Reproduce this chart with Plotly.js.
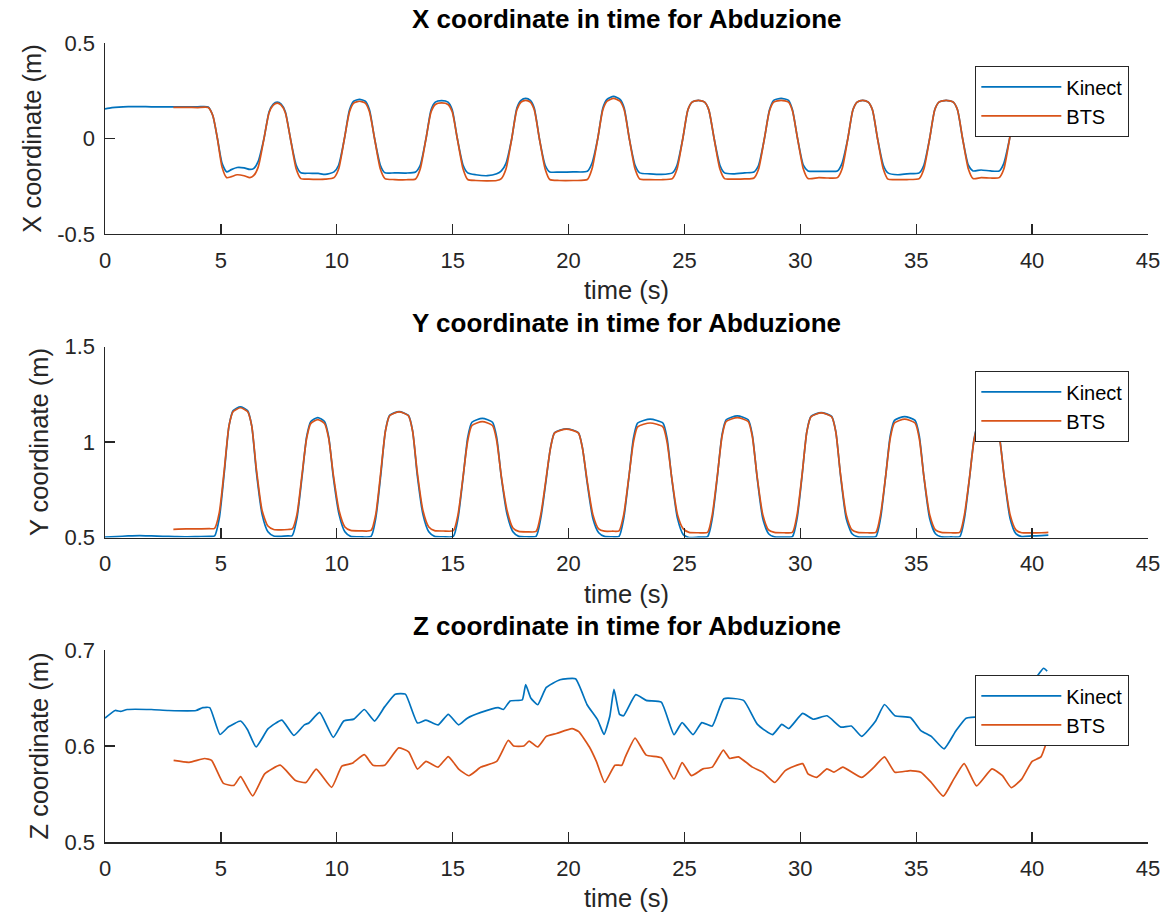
<!DOCTYPE html>
<html>
<head>
<meta charset="utf-8">
<script src="https://cdn.plot.ly/plotly-3.0.1.min.js"></script>
<style>
  html, body { margin: 0; padding: 0; background: #ffffff; }
  #chart { width: 1168px; height: 912px; }
</style>
</head>
<body>
<div id="chart"></div>
<script>
// ---------------- data ----------------
const seriesNames = ["Kinect", "BTS"];
const xTickVals = [0, 5, 10, 15, 20, 25, 30, 35, 40, 45];
const xTickText = ["0", "5", "10", "15", "20", "25", "30", "35", "40", "45"];
const y1TickVals = [-0.5, 0, 0.5];
const y1TickText = ["-0.5", "0", "0.5"];
const y2TickVals = [0.5, 1, 1.5];
const y2TickText = ["0.5", "1", "1.5"];
const y3TickVals = [0.5, 0.6, 0.7];
const y3TickText = ["0.5", "0.6", "0.7"];

// X coordinate, Kinect
const kinectXt = [0, 0.3, 1, 2, 3, 4, 4.45, 4.65, 4.85, 5.05, 5.25, 5.45, 5.7, 6.0, 6.25, 6.41,
  6.61, 6.86, 7.08, 7.26, 7.43, 7.6, 7.78, 8.0, 8.25, 8.45,
  8.8, 9.2, 9.5, 9.88,
  10.08, 10.33, 10.55, 10.73, 10.98, 11.23, 11.41, 11.63, 11.88, 12.08,
  12.5, 13.0, 13.4,
  13.6, 13.85, 14.07, 14.25, 14.52, 14.8, 14.98, 15.2, 15.45, 15.65,
  16.0, 16.5, 16.9, 17.1,
  17.3, 17.55, 17.77, 17.95, 18.15, 18.35, 18.52, 18.74, 18.99, 19.19,
  19.6, 20.2, 20.81,
  21.01, 21.26, 21.48, 21.66, 21.94, 22.22, 22.4, 22.62, 22.87, 23.07,
  23.5, 24.0, 24.48,
  24.68, 24.93, 25.15, 25.33, 25.6, 25.87, 26.05, 26.28, 26.53, 26.73,
  27.1, 27.6, 28.0,
  28.2, 28.45, 28.67, 28.85, 29.17, 29.49, 29.66, 29.88, 30.13, 30.33,
  30.8, 31.2, 31.6,
  31.8, 32.05, 32.27, 32.45, 32.69, 32.93, 33.11, 33.33, 33.58, 33.78,
  34.2, 34.6, 35.13,
  35.33, 35.58, 35.8, 35.98, 36.29, 36.6, 36.78, 37.0, 37.25, 37.45,
  37.8, 38.2, 38.58,
  38.78, 39.03, 39.25, 39.45, 39.8, 40.3, 40.7];
const kinectXv = [0.155, 0.162, 0.167, 0.166, 0.165, 0.166, 0.165, 0.12, 0.0, -0.13, -0.175, -0.163, -0.152, -0.154, -0.162, -0.158,
  -0.12, 0.0, 0.14, 0.18, 0.19, 0.18, 0.14, 0.0, -0.14, -0.18,
  -0.182, -0.183, -0.188, -0.175,
  -0.14, 0.0, 0.15, 0.195, 0.205, 0.195, 0.15, 0.0, -0.14, -0.18,
  -0.18, -0.181, -0.175,
  -0.14, 0.0, 0.15, 0.19, 0.198, 0.19, 0.15, 0.0, -0.14, -0.18,
  -0.19, -0.195, -0.185, -0.17,
  -0.13, 0.0, 0.16, 0.2, 0.21, 0.2, 0.16, 0.0, -0.14, -0.175,
  -0.176, -0.175, -0.172,
  -0.13, 0.0, 0.16, 0.205, 0.22, 0.205, 0.16, 0.0, -0.14, -0.18,
  -0.185, -0.188, -0.18,
  -0.14, 0.0, 0.15, 0.19, 0.2, 0.19, 0.15, 0.0, -0.14, -0.18,
  -0.185, -0.18, -0.175,
  -0.14, 0.0, 0.15, 0.2, 0.21, 0.2, 0.15, 0.0, -0.14, -0.17,
  -0.172, -0.172, -0.17,
  -0.13, 0.0, 0.15, 0.19, 0.2, 0.19, 0.15, 0.0, -0.14, -0.18,
  -0.19, -0.185, -0.18,
  -0.14, 0.0, 0.15, 0.19, 0.2, 0.19, 0.15, 0.0, -0.14, -0.17,
  -0.165, -0.17, -0.17,
  -0.13, 0.0, 0.15, 0.19, 0.2, 0.2, 0.2];

// X coordinate, BTS
const btsXt = [2.95, 3.5, 4.0, 4.45, 4.65, 4.85, 5.05, 5.25, 5.45, 5.7, 6.0, 6.25, 6.41,
  6.61, 6.86, 7.08, 7.26, 7.43, 7.6, 7.78, 8.0, 8.25, 8.45,
  8.8, 9.2, 9.5, 9.88,
  10.08, 10.33, 10.55, 10.73, 10.98, 11.23, 11.41, 11.63, 11.88, 12.08,
  12.5, 13.0, 13.4,
  13.6, 13.85, 14.07, 14.25, 14.52, 14.8, 14.98, 15.2, 15.45, 15.65,
  16.0, 16.5, 16.9, 17.1,
  17.3, 17.55, 17.77, 17.95, 18.15, 18.35, 18.52, 18.74, 18.99, 19.19,
  19.6, 20.2, 20.81,
  21.01, 21.26, 21.48, 21.66, 21.94, 22.22, 22.4, 22.62, 22.87, 23.07,
  23.5, 24.0, 24.48,
  24.68, 24.93, 25.15, 25.33, 25.6, 25.87, 26.05, 26.28, 26.53, 26.73,
  27.1, 27.6, 28.0,
  28.2, 28.45, 28.67, 28.85, 29.17, 29.49, 29.66, 29.88, 30.13, 30.33,
  30.8, 31.2, 31.6,
  31.8, 32.05, 32.27, 32.45, 32.69, 32.93, 33.11, 33.33, 33.58, 33.78,
  34.2, 34.6, 35.13,
  35.33, 35.58, 35.8, 35.98, 36.29, 36.6, 36.78, 37.0, 37.25, 37.45,
  37.8, 38.2, 38.58,
  38.78, 39.03, 39.25, 39.45, 39.8, 40.3, 40.7];
const btsXv = [0.163, 0.163, 0.162, 0.162, 0.12, 0.0, -0.15, -0.205, -0.2, -0.19, -0.195, -0.205, -0.195,
  -0.15, 0.0, 0.135, 0.175, 0.185, 0.175, 0.135, 0.0, -0.16, -0.21,
  -0.213, -0.214, -0.213, -0.205,
  -0.16, 0.0, 0.14, 0.185, 0.195, 0.185, 0.14, 0.0, -0.16, -0.21,
  -0.215, -0.216, -0.212,
  -0.16, 0.0, 0.14, 0.178, 0.186, 0.178, 0.14, 0.0, -0.16, -0.215,
  -0.22, -0.222, -0.22, -0.21,
  -0.16, 0.0, 0.15, 0.19, 0.2, 0.19, 0.15, 0.0, -0.16, -0.215,
  -0.22, -0.22, -0.215,
  -0.16, 0.0, 0.15, 0.195, 0.21, 0.195, 0.15, 0.0, -0.16, -0.212,
  -0.215, -0.216, -0.21,
  -0.16, 0.0, 0.15, 0.19, 0.2, 0.19, 0.15, 0.0, -0.16, -0.21,
  -0.213, -0.212, -0.207,
  -0.16, 0.0, 0.145, 0.19, 0.2, 0.19, 0.145, 0.0, -0.16, -0.21,
  -0.205, -0.207, -0.205,
  -0.16, 0.0, 0.15, 0.19, 0.2, 0.19, 0.15, 0.0, -0.16, -0.213,
  -0.215, -0.215, -0.21,
  -0.16, 0.0, 0.15, 0.19, 0.2, 0.19, 0.15, 0.0, -0.16, -0.21,
  -0.205, -0.207, -0.205,
  -0.16, 0.0, 0.145, 0.185, 0.2, 0.2, 0.2];

// Y coordinate, Kinect
const kinectYt = [0, 0.5, 1.0, 1.5, 2.0, 2.5, 3.0, 3.5, 4.0, 4.5, 4.73,
  4.93, 5.15, 5.35, 5.53, 5.84, 6.15, 6.33, 6.53, 6.78, 7.03, 7.28,
  7.6, 7.9,
  8.08, 8.28, 8.5, 8.7, 8.88, 9.18, 9.47, 9.65, 9.85, 10.1, 10.35, 10.6,
  11.0, 11.48,
  11.68, 11.9, 12.1, 12.28, 12.69, 13.09, 13.27, 13.47, 13.72, 13.97, 14.22,
  14.6, 15.03,
  15.23, 15.45, 15.65, 15.83, 16.28, 16.72, 16.9, 17.1, 17.35, 17.6, 17.85,
  18.2, 18.6,
  18.8, 19.02, 19.22, 19.4, 19.91, 20.42, 20.6, 20.8, 21.05, 21.3, 21.55,
  21.9, 22.18,
  22.38, 22.6, 22.8, 22.98, 23.52, 24.07, 24.25, 24.45, 24.7, 24.95, 25.2,
  25.6, 26.0,
  26.2, 26.42, 26.62, 26.8, 27.28, 27.75, 27.93, 28.13, 28.38, 28.63, 28.88,
  29.3, 29.66,
  29.86, 30.08, 30.28, 30.46, 30.9, 31.35, 31.53, 31.73, 31.98, 32.23, 32.48,
  32.9, 33.26,
  33.46, 33.68, 33.88, 34.06, 34.5, 34.95, 35.13, 35.33, 35.58, 35.83, 36.08,
  36.5, 36.88,
  37.08, 37.3, 37.5, 37.68, 38.05, 38.42, 38.6, 38.8, 39.05, 39.3, 39.55,
  40.0, 40.4, 40.7];
const kinectYv = [0.502, 0.505, 0.508, 0.51, 0.508, 0.506, 0.505, 0.504, 0.505, 0.506, 0.508,
  0.6, 0.845, 1.085, 1.165, 1.185, 1.165, 1.085, 0.845, 0.62, 0.53, 0.508,
  0.506, 0.508,
  0.51, 0.6, 0.817, 1.028, 1.108, 1.128, 1.108, 1.028, 0.817, 0.62, 0.53, 0.506,
  0.504, 0.506,
  0.6, 0.83, 1.06, 1.14, 1.16, 1.14, 1.06, 0.83, 0.62, 0.53, 0.506,
  0.504, 0.506,
  0.6, 0.815, 1.024, 1.104, 1.124, 1.104, 1.024, 0.815, 0.62, 0.53, 0.506,
  0.504, 0.506,
  0.6, 0.79, 0.97, 1.05, 1.07, 1.05, 0.97, 0.79, 0.6, 0.525, 0.506,
  0.504, 0.506,
  0.6, 0.812, 1.02, 1.1, 1.12, 1.1, 1.02, 0.812, 0.6, 0.515, 0.5,
  0.502, 0.505,
  0.6, 0.82, 1.037, 1.117, 1.137, 1.117, 1.037, 0.82, 0.6, 0.52, 0.503,
  0.502, 0.505,
  0.6, 0.83, 1.055, 1.135, 1.155, 1.135, 1.055, 0.83, 0.6, 0.52, 0.503,
  0.502, 0.505,
  0.6, 0.82, 1.034, 1.114, 1.134, 1.114, 1.034, 0.82, 0.6, 0.52, 0.503,
  0.503, 0.505,
  0.6, 0.812, 1.02, 1.1, 1.12, 1.1, 1.02, 0.812, 0.6, 0.52, 0.505,
  0.508, 0.51, 0.512];

// Y coordinate, BTS
const btsYt = [2.95, 3.5, 4.0, 4.5, 4.73,
  4.93, 5.15, 5.35, 5.53, 5.84, 6.15, 6.33, 6.53, 6.78, 7.03, 7.28,
  7.6, 7.9,
  8.08, 8.28, 8.5, 8.7, 8.88, 9.18, 9.47, 9.65, 9.85, 10.1, 10.35, 10.6,
  11.0, 11.48,
  11.68, 11.9, 12.1, 12.28, 12.69, 13.09, 13.27, 13.47, 13.72, 13.97, 14.22,
  14.6, 15.03,
  15.23, 15.45, 15.65, 15.83, 16.28, 16.72, 16.9, 17.1, 17.35, 17.6, 17.85,
  18.2, 18.6,
  18.8, 19.02, 19.22, 19.4, 19.91, 20.42, 20.6, 20.8, 21.05, 21.3, 21.55,
  21.9, 22.18,
  22.38, 22.6, 22.8, 22.98, 23.52, 24.07, 24.25, 24.45, 24.7, 24.95, 25.2,
  25.6, 26.0,
  26.2, 26.42, 26.62, 26.8, 27.28, 27.75, 27.93, 28.13, 28.38, 28.63, 28.88,
  29.3, 29.66,
  29.86, 30.08, 30.28, 30.46, 30.9, 31.35, 31.53, 31.73, 31.98, 32.23, 32.48,
  32.9, 33.26,
  33.46, 33.68, 33.88, 34.06, 34.5, 34.95, 35.13, 35.33, 35.58, 35.83, 36.08,
  36.5, 36.88,
  37.08, 37.3, 37.5, 37.68, 38.05, 38.42, 38.6, 38.8, 39.05, 39.3, 39.55,
  40.0, 40.4, 40.7];
const btsYv = [0.543, 0.545, 0.545, 0.546, 0.548,
  0.63, 0.86, 1.085, 1.16, 1.18, 1.16, 1.085, 0.86, 0.64, 0.56, 0.542,
  0.54, 0.542,
  0.545, 0.62, 0.83, 1.02, 1.098, 1.118, 1.098, 1.02, 0.83, 0.64, 0.555, 0.537,
  0.535, 0.537,
  0.62, 0.845, 1.058, 1.138, 1.158, 1.138, 1.058, 0.845, 0.64, 0.555, 0.536,
  0.534, 0.536,
  0.62, 0.82, 1.007, 1.087, 1.107, 1.087, 1.007, 0.82, 0.64, 0.55, 0.532,
  0.53, 0.532,
  0.62, 0.8, 0.968, 1.048, 1.068, 1.048, 0.968, 0.8, 0.62, 0.545, 0.533,
  0.533, 0.535,
  0.62, 0.815, 1.0, 1.08, 1.1, 1.08, 1.0, 0.815, 0.62, 0.545, 0.527,
  0.525, 0.527,
  0.62, 0.825, 1.028, 1.108, 1.128, 1.108, 1.028, 0.825, 0.62, 0.54, 0.527,
  0.525, 0.527,
  0.62, 0.835, 1.053, 1.133, 1.153, 1.133, 1.053, 0.835, 0.62, 0.54, 0.527,
  0.525, 0.527,
  0.62, 0.82, 1.02, 1.1, 1.12, 1.1, 1.02, 0.82, 0.62, 0.54, 0.527,
  0.525, 0.527,
  0.62, 0.815, 1.015, 1.095, 1.115, 1.095, 1.015, 0.815, 0.62, 0.54, 0.525,
  0.524, 0.525, 0.527];

// Z coordinate, Kinect
const kinectZt = [0, 0.44, 0.67, 0.96, 2.0, 2.74, 3.93, 4.22, 4.52, 4.96, 5.33, 5.85, 6.15, 6.52,
  7.04, 7.63, 8.15, 8.6, 8.8, 9.26, 9.85, 10.3, 10.74, 11.19, 11.63, 12.07, 12.52, 12.96,
  13.48, 13.85, 14.37, 14.81, 15.26, 15.63, 16.22, 16.96, 17.19, 17.48, 18.0, 18.15, 18.37,
  18.67, 19.04, 19.63, 20.3, 20.8, 21.26, 21.53, 21.78, 21.96, 22.2, 22.37, 22.9, 23.35,
  24.0, 24.55, 24.9, 25.37, 25.75, 26.2, 26.7, 27.55, 28.15, 28.8, 29.2, 29.5, 30.1, 30.55,
  31.15, 31.75, 32.2, 32.65, 33.25, 33.63, 34.08, 34.75, 35.2, 35.65, 36.2, 36.7, 37.15,
  37.6, 38.1, 38.6, 39.1, 39.4, 39.8, 40.15, 40.5, 40.65];
const kinectZv = [0.629, 0.637, 0.636, 0.638, 0.638, 0.637, 0.637, 0.64, 0.64, 0.612, 0.62, 0.626, 0.617, 0.599,
  0.618, 0.627, 0.611, 0.622, 0.624, 0.635, 0.609, 0.626, 0.628, 0.638, 0.626, 0.641, 0.654, 0.654,
  0.624, 0.627, 0.622, 0.633, 0.622, 0.629, 0.635, 0.64, 0.638, 0.647, 0.648, 0.664, 0.65,
  0.643, 0.661, 0.669, 0.67, 0.643, 0.627, 0.612, 0.631, 0.659, 0.633, 0.6315, 0.6535, 0.6475,
  0.6457, 0.6118, 0.6244, 0.6118, 0.6244, 0.6208, 0.6492, 0.6475, 0.6225, 0.6118, 0.6225, 0.6182, 0.6339, 0.6279,
  0.6315, 0.6197, 0.6208, 0.61, 0.6261, 0.6432, 0.6315, 0.6297, 0.6161, 0.61, 0.597, 0.6154, 0.629,
  0.63, 0.625, 0.615, 0.602, 0.612, 0.64, 0.67, 0.681, 0.678];

// Z coordinate, BTS
const btsZt = [2.96, 3.63, 4.3, 4.6, 5.11, 5.56, 5.85, 6.37, 6.89, 7.56, 8.22, 8.67, 9.11, 9.78,
  10.22, 10.67, 11.19, 11.56, 12.07, 12.67, 13.1, 13.48, 13.85, 14.37, 14.81, 15.26, 15.7,
  16.22, 16.9, 17.4, 17.63, 18.07, 18.3, 18.67, 19.04, 19.48, 20.15, 20.44, 20.9, 21.2, 21.56,
  22.0, 22.3, 22.45, 22.87, 23.35, 24.0, 24.55, 24.9, 25.3, 25.8, 26.2, 26.68, 26.95, 27.33,
  27.93, 28.38, 28.9, 29.35, 30.1, 30.33, 30.7, 31.15, 31.45, 31.83, 32.65, 33.18, 33.63,
  34.08, 34.75, 35.2, 35.65, 36.17, 36.62, 37.07, 37.6, 38.27, 38.72, 39.1, 39.55, 40.0,
  40.38, 40.63];
const btsZv = [0.585, 0.583, 0.587, 0.585, 0.561, 0.559, 0.568, 0.548, 0.571, 0.58, 0.564, 0.562, 0.576, 0.557,
  0.579, 0.582, 0.591, 0.58, 0.58, 0.598, 0.594, 0.576, 0.584, 0.578, 0.589, 0.576, 0.569,
  0.578, 0.584, 0.606, 0.6, 0.6, 0.605, 0.599, 0.61, 0.613, 0.618, 0.615, 0.599, 0.584, 0.562,
  0.58, 0.58, 0.5887, 0.6083, 0.5905, 0.5877, 0.5655, 0.5827, 0.5691, 0.5762, 0.578, 0.5958, 0.587, 0.5887,
  0.578, 0.5727, 0.562, 0.5744, 0.5816, 0.571, 0.5673, 0.5762, 0.5727, 0.578, 0.5673, 0.578, 0.5887,
  0.5727, 0.5744, 0.5727, 0.562, 0.5477, 0.5655, 0.5816, 0.5584, 0.5762, 0.5691, 0.5566, 0.5655, 0.584,
  0.5887, 0.6047];

const titles = ["X coordinate in time for Abduzione", "Y coordinate in time for Abduzione", "Z coordinate in time for Abduzione"];
const yTitles = ["X coordinate (m)", "Y coordinate (m)", "Z coordinate (m)"];
const xTitle = "time (s)";

// ---------------- styling ----------------
const FONT = "'Liberation Sans', Arial, Helvetica, sans-serif";
const AXC = "#262626";
const colK = "#0072BD";
const colB = "#D95319";

function line(x, y, name, color, xa, ya, leg, smooth) {
  return {
    type: "scatter", mode: "lines", x: x, y: y, name: name,
    xaxis: xa, yaxis: ya, legend: leg,
    line: { color: color, width: 1.7, shape: "spline", smoothing: smooth },
    hoverinfo: "skip"
  };
}

const data = [
  line(kinectXt, kinectXv, seriesNames[0], colK, "x", "y", "legend", 0.6),
  line(btsXt, btsXv, seriesNames[1], colB, "x", "y", "legend", 0.6),
  line(kinectYt, kinectYv, seriesNames[0], colK, "x2", "y2", "legend2", 0.6),
  line(btsYt, btsYv, seriesNames[1], colB, "x2", "y2", "legend2", 0.6),
  line(kinectZt, kinectZv, seriesNames[0], colK, "x3", "y3", "legend3", 0.45),
  line(btsZt, btsZv, seriesNames[1], colB, "x3", "y3", "legend3", 0.45)
];

function xax(anchor) {
  return {
    anchor: anchor, domain: [0, 1], range: [0, 45],
    tickmode: "array", tickvals: xTickVals, ticktext: xTickText,
    ticks: "inside", ticklen: 10, tickwidth: 1.3, tickcolor: AXC,
    showline: true, linecolor: AXC, linewidth: 1.5,
    showgrid: false, zeroline: false, mirror: false,
    tickfont: { family: FONT, size: 22, color: AXC },
    ticklabelstandoff: 6,
    title: { text: xTitle, font: { family: FONT, size: 25.5, color: AXC }, standoff: 9 }
  };
}
function yax(anchor, domain, range, tv, tt, title) {
  return {
    anchor: anchor, domain: domain, range: range,
    tickmode: "array", tickvals: tv, ticktext: tt,
    ticks: "inside", ticklen: 10, tickwidth: 1.3, tickcolor: AXC,
    showline: true, linecolor: AXC, linewidth: 1.5,
    showgrid: false, zeroline: false, mirror: false,
    tickfont: { family: FONT, size: 22, color: AXC },
    ticklabelstandoff: 4,
    title: { text: title, font: { family: FONT, size: 25.5, color: AXC }, standoff: 8 }
  };
}
function leg(y) {
  return {
    x: 0.9818, xanchor: "right", y: y, yanchor: "top",
    bgcolor: "#ffffff", bordercolor: AXC, borderwidth: 1.3,
    font: { family: FONT, size: 20, color: "#000000" },
    itemwidth: 80, tracegroupgap: 0
  };
}

const d1 = [0.761, 1.0], d2 = [0.3811, 0.6199], d3 = [0.0, 0.2403];

const layout = {
  width: 1168, height: 912,
  margin: { l: 105, r: 20, t: 43, b: 70, pad: 0 },
  paper_bgcolor: "#ffffff", plot_bgcolor: "#ffffff",
  font: { family: FONT, color: AXC },
  showlegend: true,
  xaxis: xax("y"), xaxis2: xax("y2"), xaxis3: xax("y3"),
  yaxis: yax("x", d1, [-0.5, 0.5], y1TickVals, y1TickText, yTitles[0]),
  yaxis2: yax("x2", d2, [0.5, 1.5], y2TickVals, y2TickText, yTitles[1]),
  yaxis3: yax("x3", d3, [0.5, 0.7], y3TickVals, y3TickText, yTitles[2]),
  legend: leg(0.9712), legend2: leg(0.5895), legend3: leg(0.209),
  annotations: [
    { text: "<b>" + titles[0] + "</b>", xref: "paper", yref: "paper", x: 0.5, y: d1[1], xanchor: "center", yanchor: "bottom", yshift: 7, showarrow: false, font: { family: FONT, size: 26, color: "#000000" } },
    { text: "<b>" + titles[1] + "</b>", xref: "paper", yref: "paper", x: 0.5, y: d2[1], xanchor: "center", yanchor: "bottom", yshift: 7, showarrow: false, font: { family: FONT, size: 26, color: "#000000" } },
    { text: "<b>" + titles[2] + "</b>", xref: "paper", yref: "paper", x: 0.5, y: d3[1], xanchor: "center", yanchor: "bottom", yshift: 7, showarrow: false, font: { family: FONT, size: 26, color: "#000000" } }
  ]
};

Plotly.newPlot("chart", data, layout, { displayModeBar: false, staticPlot: true });
</script>
</body>
</html>
